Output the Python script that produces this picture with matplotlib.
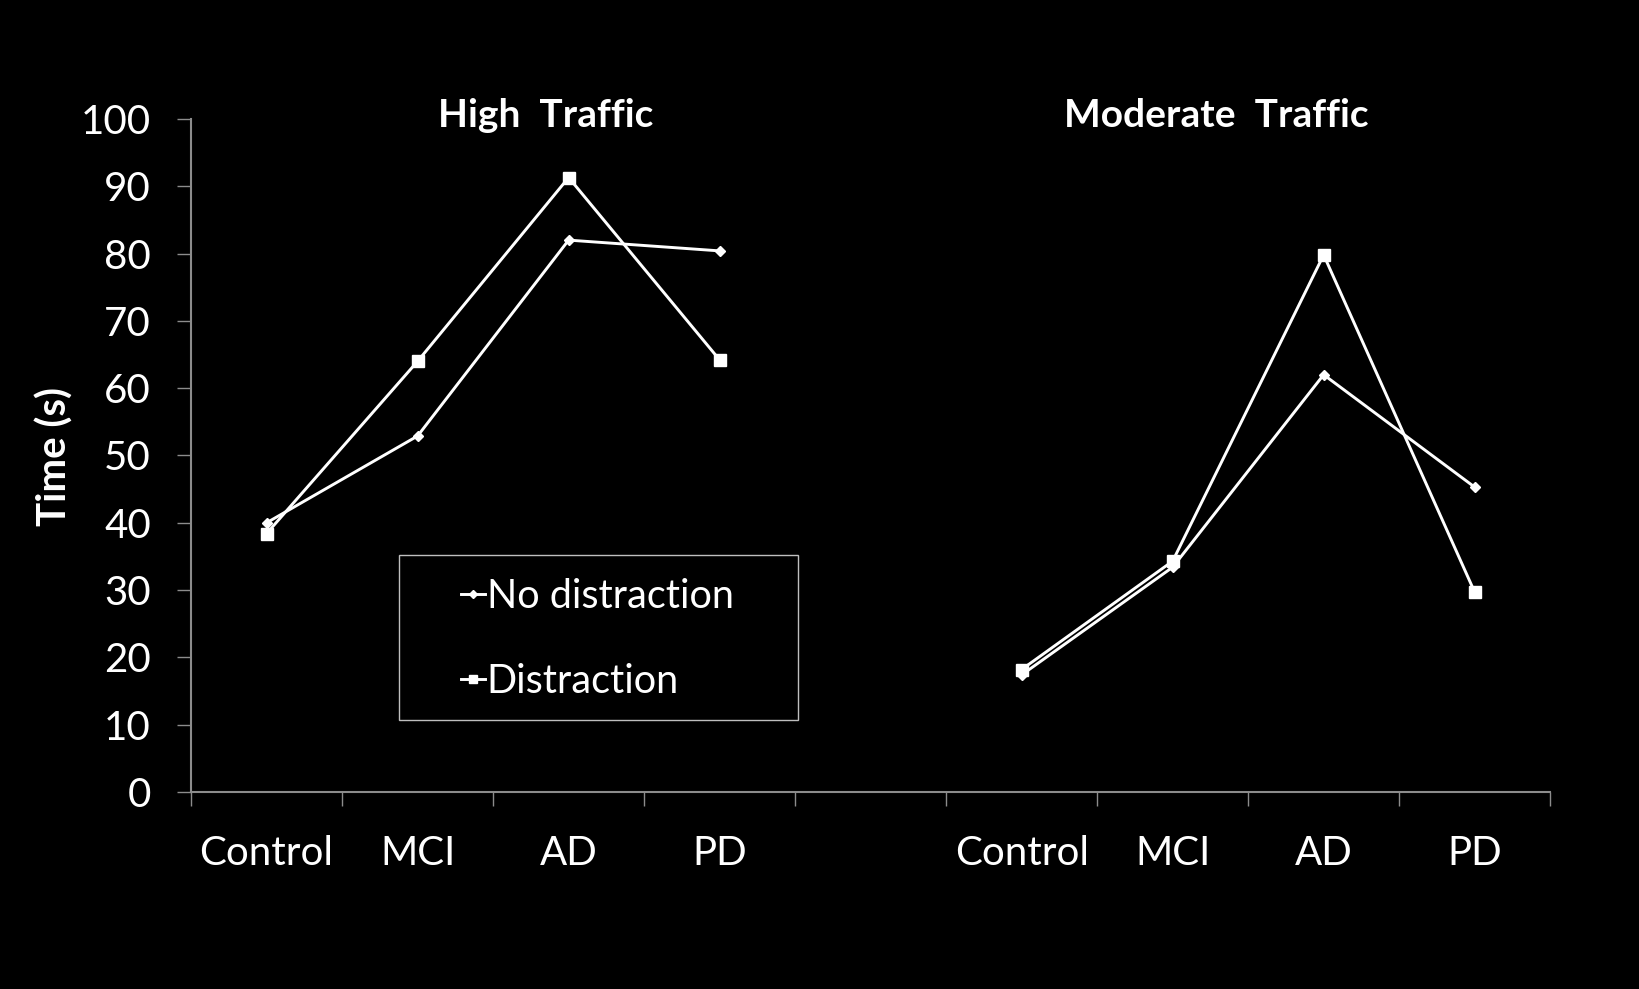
import matplotlib.pyplot as plt
import numpy as np
from matplotlib.patches import Rectangle

plt.rcParams['font.family'] = ['Lato', 'DejaVu Sans']

groups = ['Control', 'MCI', 'AD', 'PD']
panels = ['High  Traffic', 'Moderate  Traffic']

# High traffic
high_no = [40.0, 52.9, 82.0, 80.4]
high_dist = [38.4, 64.0, 91.3, 64.2]
# Moderate traffic
mod_no = [17.4, 33.4, 62.0, 45.3]
mod_dist = [18.2, 34.3, 79.8, 29.7]

fig = plt.figure(figsize=(16.39, 9.89), dpi=100, facecolor='black')
ax = fig.add_axes([0.1166, 0.1992, 0.8292, 0.6805])
ax.set_facecolor('black')

x_high = np.arange(4)
x_mod = np.arange(4) + 5

ax.plot(x_high, high_no, color='white', lw=2.1, marker='D', ms=5.5, label='No distraction')
ax.plot(x_high, high_dist, color='white', lw=2.1, marker='s', ms=8, label='Distraction')
ax.plot(x_mod, mod_no, color='white', lw=2.1, marker='D', ms=5.5)
ax.plot(x_mod, mod_dist, color='white', lw=2.1, marker='s', ms=8)

ax.set_xlim(-0.5, 8.5)
ax.set_ylim(0, 100)
ax.set_yticks(np.arange(0, 101, 10))

# tick marks at category boundaries, labels at centres
ax.set_xticks(np.arange(-0.5, 9, 1))
ax.set_xticklabels([])
ax.set_xticks(list(x_high) + list(x_mod), minor=True)
ax.set_xticklabels(groups + groups, minor=True)

for s in ['top', 'right']:
    ax.spines[s].set_visible(False)
for s in ['left', 'bottom']:
    ax.spines[s].set_color('#8c8c8c')
    ax.spines[s].set_linewidth(1.5)

ax.tick_params(axis='y', colors='#8c8c8c', labelcolor='white', length=10, width=1,
               pad=19, labelsize=29)
ax.tick_params(axis='x', which='major', colors='#8c8c8c', length=10, width=1)
ax.tick_params(axis='x', which='minor', length=0, pad=31, labelsize=29, labelcolor='white')

ax.set_ylabel('Time (s)', color='white', fontsize=29, fontweight='bold',
              ha='center', va='center')
ax.yaxis.set_label_coords(-0.1005, 0.498)

ax.text(1.85, 100.5, panels[0], color='white', fontsize=28, fontweight='bold',
        ha='center', va='center')
ax.text(6.29, 100.5, panels[1], color='white', fontsize=28, fontweight='bold',
        ha='center', va='center')

# legend box
ax.add_patch(Rectangle((0.153, 0.1065), 0.2936, 0.2452, transform=ax.transAxes,
                       fill=False, edgecolor='#bfbfbf', lw=1, clip_on=False))
leg = ax.legend(loc='upper left', bbox_to_anchor=(0.184, 0.348), frameon=False,
                fontsize=28.5, labelcolor='white', handlelength=0.6, handletextpad=0.05,
                labelspacing=1.22, borderpad=0, markerscale=0.8)

fig.savefig('out.png', dpi=100, facecolor='black')
